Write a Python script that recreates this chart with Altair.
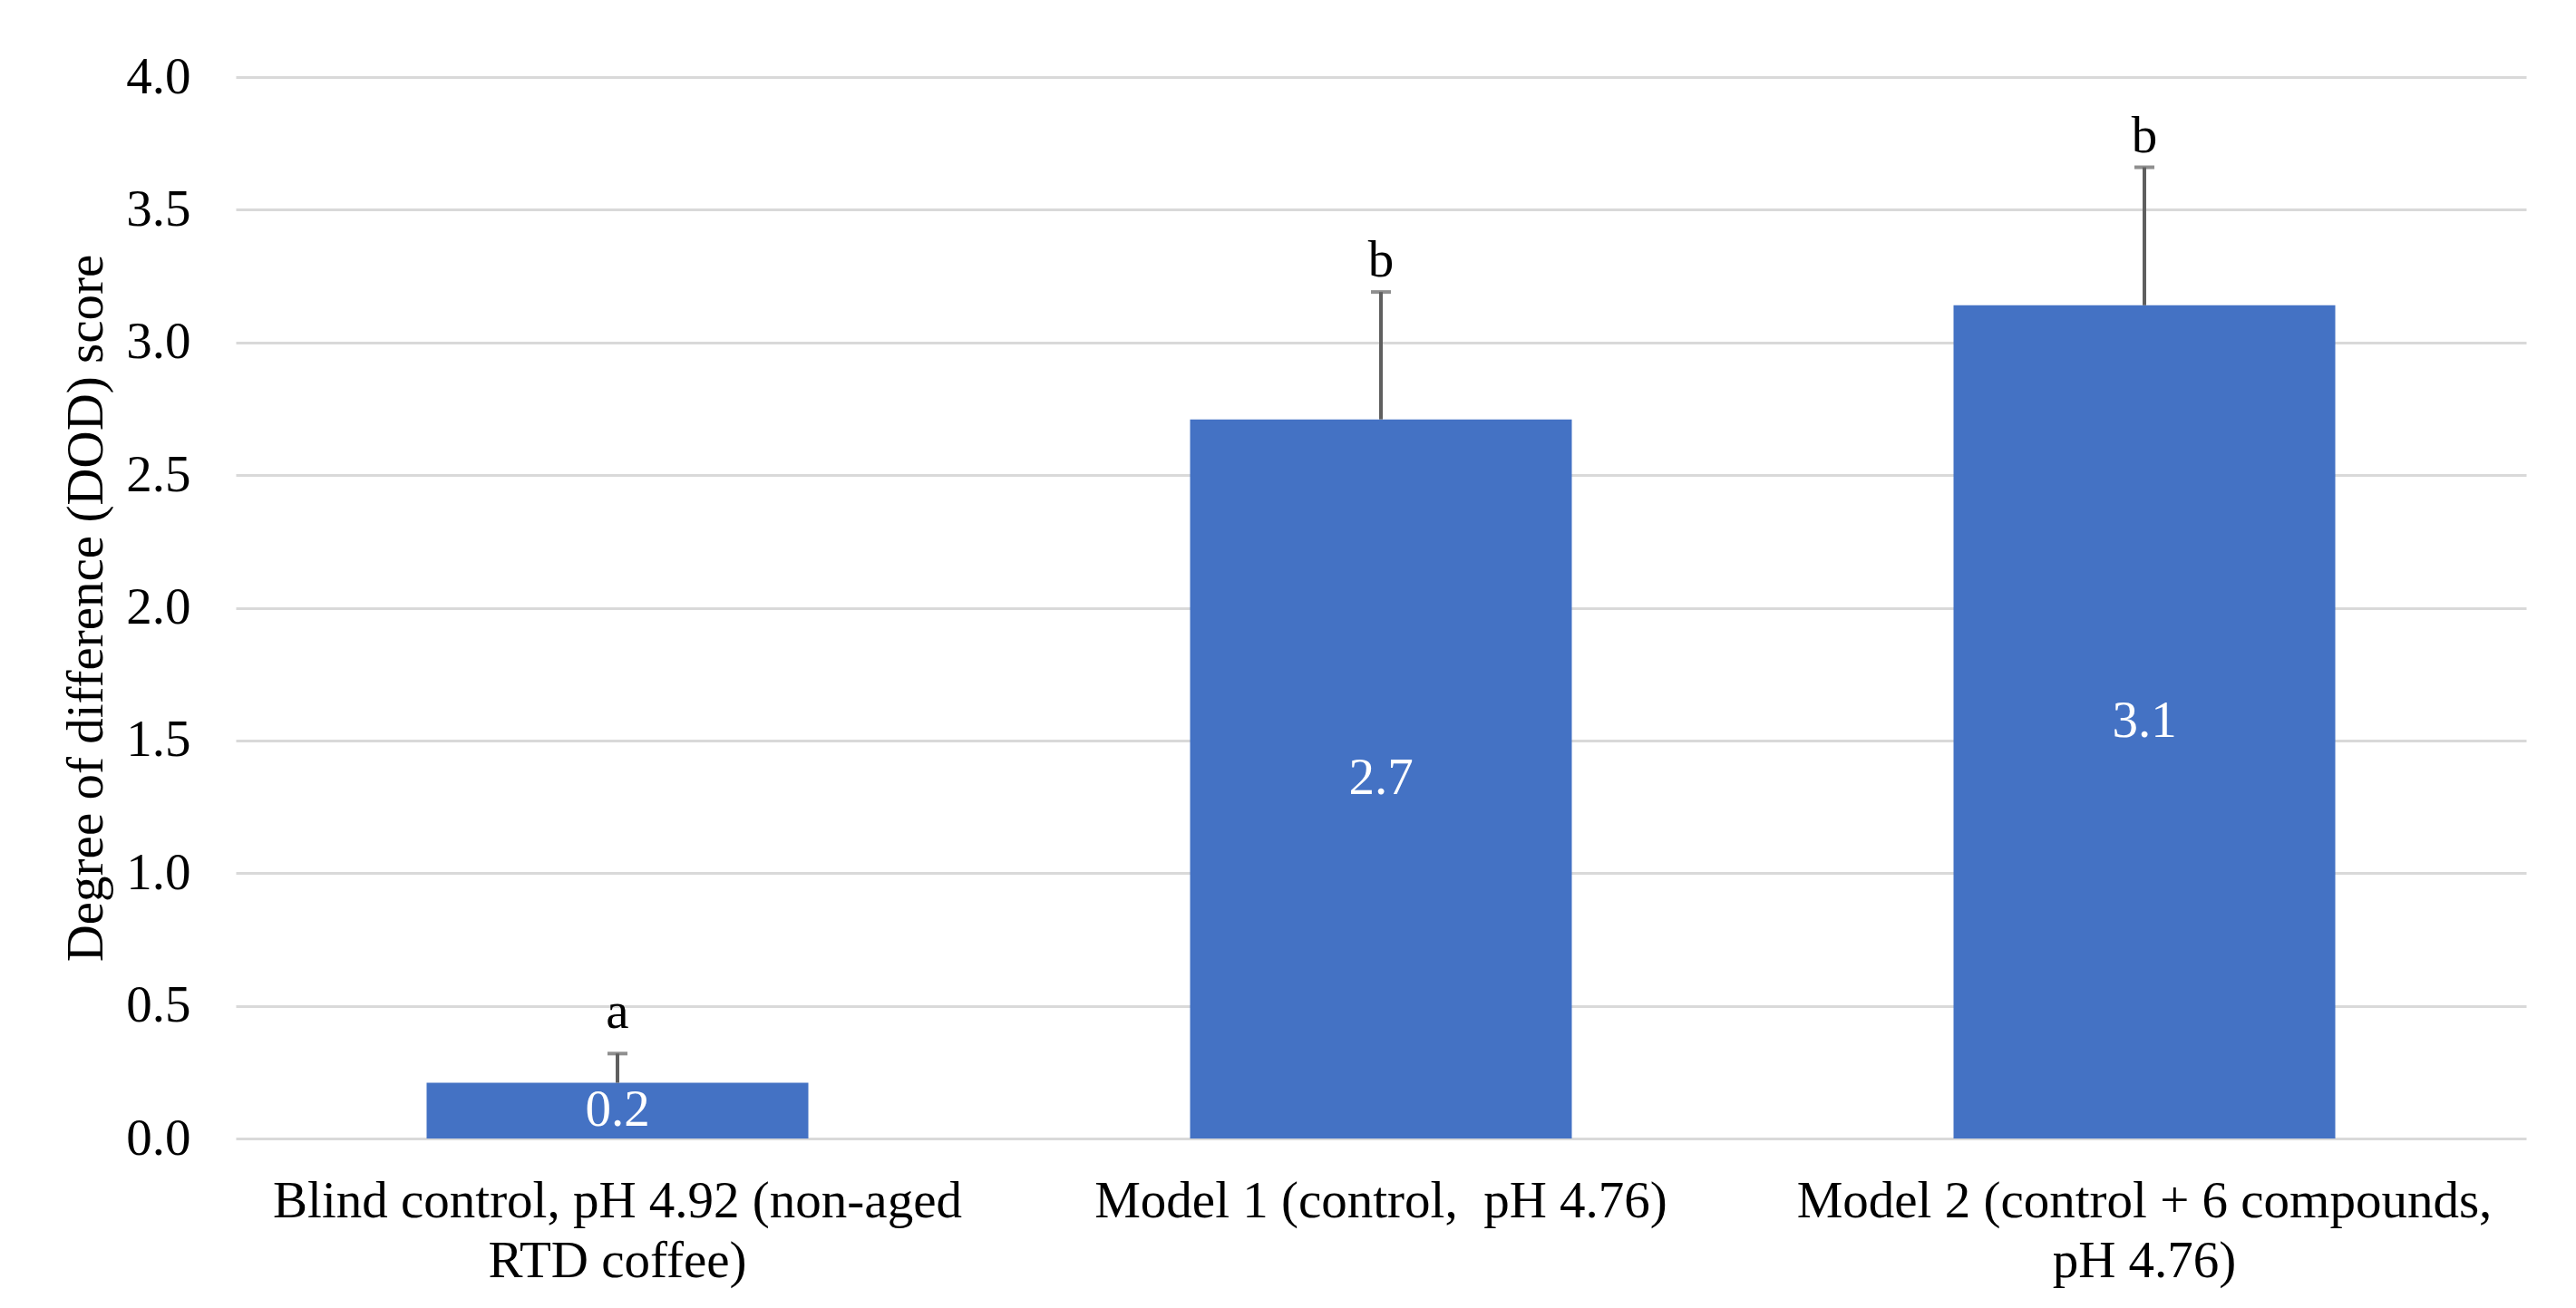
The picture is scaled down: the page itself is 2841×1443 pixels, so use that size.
import altair as alt
import pandas as pd

# ---- data ----
categories = [
    "Blind control, pH 4.92 (non-aged|RTD coffee)",
    "Model 1 (control,\u00a0 pH 4.76)",
    "Model 2 (control + 6 compounds,|pH 4.76)",
]
means = [0.21, 2.71, 3.14]
sds = [0.11, 0.48, 0.52]
letters = ["a", "b", "b"]
y_ticks = [0.0, 0.5, 1.0, 1.5, 2.0, 2.5, 3.0, 3.5, 4.0]

df = pd.DataFrame({"category": categories, "mean": means, "sd": sds, "letter": letters})

FONT = "Liberation Serif"
FS = 57
BLUE = "#4472C4"
ERR = "#5f5f5f"

W, H = 2526, 1171

x_axis = alt.Axis(
    title=None,
    labelAngle=0,
    labelExpr="split(datum.label, '|')",
    labelFont=FONT,
    labelFontSize=FS,
    labelColor="#000000",
    labelLineHeight=66,
    labelBaseline="alphabetic",
    labelPadding=86,
    labelLimit=1500,
    labelOverlap=False,
    ticks=False,
    domain=False,
    grid=False,
)
x_scale = alt.Scale(paddingInner=0.5, paddingOuter=0.25)

y_axis = alt.Axis(
    values=y_ticks,
    format=".1f",
    title="Degree of difference (DOD) score",
    titleFont=FONT,
    titleFontSize=FS,
    titleFontWeight="normal",
    titleColor="#000000",
    titleAngle=270,
    titleX=-148,
    titleY=H / 2,
    titleAlign="center",
    titleBaseline="alphabetic",
    labelFont=FONT,
    labelFontSize=FS,
    labelColor="#000000",
    labelPadding=50,
    ticks=False,
    domain=False,
    grid=True,
    gridColor="#d9d9d9",
    gridWidth=3,
)
y_scale = alt.Scale(domain=[0, 4], nice=False)


def X():
    return alt.X("category:N", sort=categories, scale=x_scale, axis=x_axis)


def Y(field):
    return alt.Y(field, scale=y_scale, axis=y_axis, title="Degree of difference (DOD) score")


base = alt.Chart(df).transform_calculate(
    upper="datum.mean + datum.sd", mid="datum.mean / 2"
)

bars = base.mark_bar(color=BLUE).encode(x=X(), y=Y("mean:Q"))

err = base.mark_rule(color=ERR, strokeWidth=4).encode(
    x=X(), y=Y("mean:Q"), y2="upper:Q"
)

caps = base.mark_tick(color=ERR, size=22, thickness=4).encode(x=X(), y=Y("upper:Q"))

values = base.mark_text(
    font=FONT, fontSize=FS, color="white", baseline="middle", align="center"
).encode(x=X(), y=Y("mid:Q"), text=alt.Text("mean:Q", format=".1f"))

letters_a = base.transform_filter("datum.letter == 'a'").mark_text(
    font=FONT, fontSize=FS, color="black", baseline="alphabetic", align="center", dy=-28
).encode(x=X(), y=Y("upper:Q"), text="letter:N")

letters_b = base.transform_filter("datum.letter != 'a'").mark_text(
    font=FONT, fontSize=FS, color="black", baseline="alphabetic", align="center", dy=-17
).encode(x=X(), y=Y("upper:Q"), text="letter:N")

chart = (
    alt.layer(bars, err, caps, values, letters_a, letters_b)
    .properties(
        width=W,
        height=H,
        autosize=alt.AutoSizeParams(type="none"),
        padding={"left": 252, "top": 77, "right": 47, "bottom": 179},
        background="white",
    )
    .configure_view(stroke=None)
)

chart.save("out.html", embed_options={"renderer": "svg", "actions": False})
